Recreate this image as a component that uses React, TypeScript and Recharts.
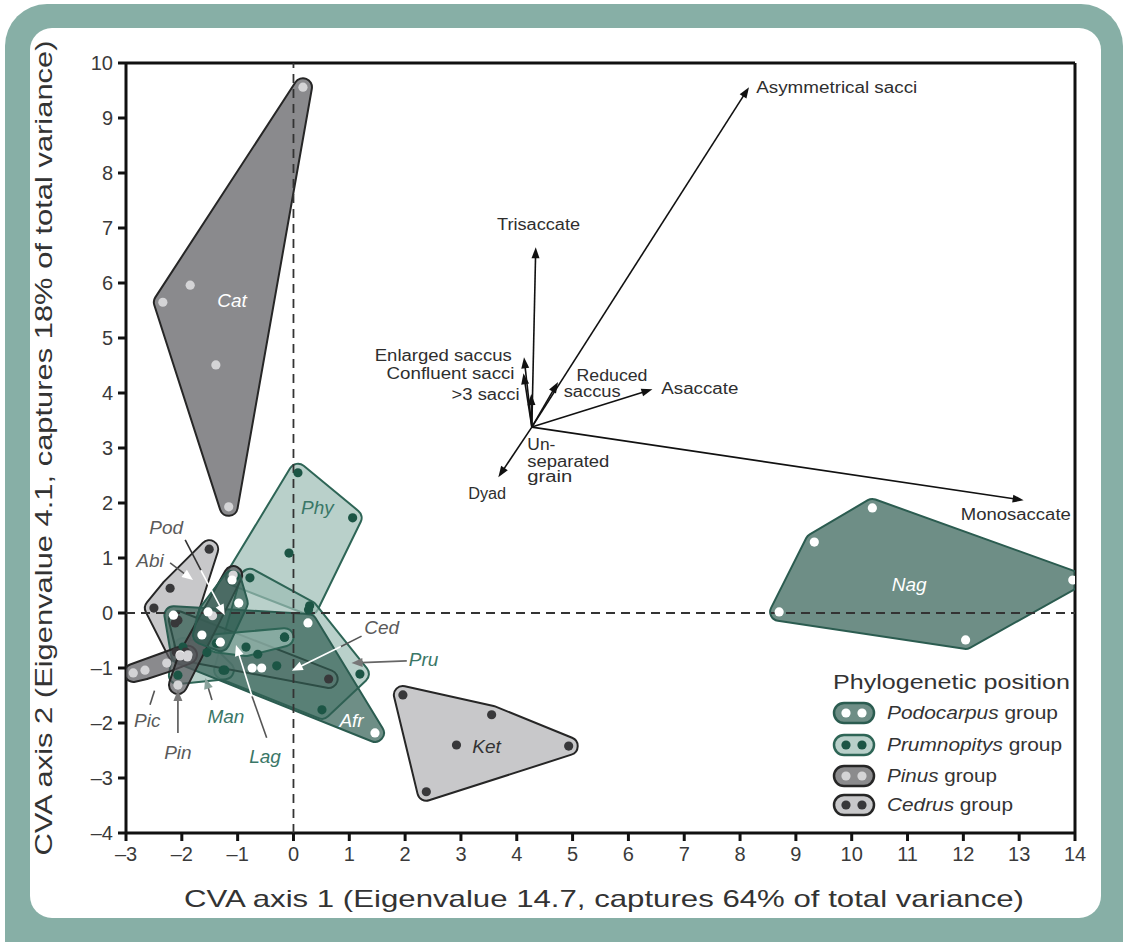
import React from 'react';
import { ScatterChart, Scatter, XAxis, YAxis, ReferenceLine } from 'recharts';

type Pt = { x: number; y: number };
type GroupKey = 'podocarpus' | 'prumnopitys' | 'pinus' | 'cedrus';

// ---------- axis ticks ----------
const xTicks = [-3, -2, -1, 0, 1, 2, 3, 4, 5, 6, 7, 8, 9, 10, 11, 12, 13, 14];
const yTicks = [-4, -3, -2, -1, 0, 1, 2, 3, 4, 5, 6, 7, 8, 9, 10];

// ---------- taxon scores (CVA axis 1, CVA axis 2) ----------
const catPoints: Pt[] = [
  { x: 0.17, y: 9.56 }, { x: -2.34, y: 5.65 }, { x: -1.85, y: 5.96 }, { x: -1.39, y: 4.51 }, { x: -1.16, y: 1.93 },
];
const nagPoints: Pt[] = [
  { x: 8.7, y: 0.02 }, { x: 9.33, y: 1.29 }, { x: 10.37, y: 1.91 }, { x: 13.96, y: 0.6 }, { x: 12.04, y: -0.49 },
];
const ketPoints: Pt[] = [
  { x: 1.96, y: -1.49 }, { x: 3.55, y: -1.85 }, { x: 2.92, y: -2.4 }, { x: 2.38, y: -3.25 }, { x: 4.93, y: -2.42 },
];
const phyPoints: Pt[] = [
  { x: 0.08, y: 2.55 }, { x: 1.06, y: 1.73 }, { x: -0.08, y: 1.09 }, { x: 0.29, y: 0.13 }, { x: -1.05, y: 0.66 },
];
const abiPoints: Pt[] = [
  { x: -1.51, y: 1.16 }, { x: -2.21, y: 0.45 }, { x: -2.5, y: 0.09 }, { x: -2.12, y: -0.18 }, { x: -2.1, y: -0.71 },
];
const cedPoints: Pt[] = [
  { x: -2.07, y: -0.13 }, { x: -1.93, y: -0.71 }, { x: -1.35, y: -0.55 }, { x: 0.63, y: -1.2 },
];
const picPoints: Pt[] = [
  { x: -2.87, y: -1.09 }, { x: -2.66, y: -1.04 }, { x: -2.27, y: -0.91 }, { x: -2.03, y: -0.78 }, { x: -1.89, y: -0.76 },
];
const pinPoints: Pt[] = [
  { x: -1.08, y: 0.69 }, { x: -1.45, y: -0.05 }, { x: -1.9, y: -0.8 }, { x: -2.07, y: -1.31 },
];
const afrPoints: Pt[] = [
  { x: -2.15, y: -0.04 }, { x: 0.26, y: -0.18 }, { x: 1.46, y: -2.18 }, { x: -2.03, y: -0.76 }, { x: -0.74, y: -1.0 }, { x: -0.57, y: -1.0 },
];
const pruPoints: Pt[] = [
  { x: -0.78, y: 0.64 }, { x: 0.27, y: 0.06 }, { x: 1.19, y: -1.11 }, { x: 0.51, y: -1.76 }, { x: -1.26, y: -1.04 },
  { x: -0.16, y: -0.44 }, { x: -0.64, y: -0.75 }, { x: -0.3, y: -0.96 },
];
const manPoints: Pt[] = [
  { x: -2.07, y: -1.13 }, { x: -1.23, y: -1.04 }, { x: -1.55, y: -0.72 }, { x: -1.98, y: -0.62 },
];
const lagPoints: Pt[] = [
  { x: -1.38, y: -0.55 }, { x: -0.16, y: -0.44 }, { x: -0.85, y: -0.62 },
];
const podPoints: Pt[] = [
  { x: -1.1, y: 0.6 }, { x: -0.98, y: 0.18 }, { x: -1.53, y: 0.02 }, { x: -1.64, y: -0.4 }, { x: -1.31, y: -0.53 },
];

// drawing order: light hulls first, darker ones on top
const taxa: { name: string; group: GroupKey; points: Pt[] }[] = [
  { name: 'Cat', group: 'pinus', points: catPoints },
  { name: 'Nag', group: 'podocarpus', points: nagPoints },
  { name: 'Ket', group: 'cedrus', points: ketPoints },
  { name: 'Phy', group: 'prumnopitys', points: phyPoints },
  { name: 'Pru', group: 'prumnopitys', points: pruPoints },
  { name: 'Man', group: 'prumnopitys', points: manPoints },
  { name: 'Abi', group: 'cedrus', points: abiPoints },
  { name: 'Ced', group: 'cedrus', points: cedPoints },
  { name: 'Afr', group: 'podocarpus', points: afrPoints },
  { name: 'Lag', group: 'prumnopitys', points: lagPoints },
  { name: 'Pic', group: 'pinus', points: picPoints },
  { name: 'Pin', group: 'pinus', points: pinPoints },
  { name: 'Pod', group: 'podocarpus', points: podPoints },
];

// ---------- character vectors (biplot) ----------
const vectorOrigin: Pt = { x: 4.27, y: 3.38 };
const vectorNames = [
  'Asymmetrical sacci', 'Trisaccate', 'Enlarged saccus', 'Confluent sacci', '>3 sacci',
  'Reduced saccus', 'Asaccate', 'Dyad', 'Monosaccate',
];
const vectorEnds: Pt[] = [
  { x: 8.16, y: 9.56 }, { x: 4.34, y: 6.65 }, { x: 4.13, y: 4.65 }, { x: 4.12, y: 4.36 }, { x: 4.26, y: 3.98 },
  { x: 4.74, y: 4.2 }, { x: 6.43, y: 4.07 }, { x: 3.67, y: 2.47 }, { x: 13.08, y: 2.05 },
];

// ---------- annotations ----------
type Tone = 'white' | 'teal' | 'gray' | 'dark';
const taxonLabels: { label: string; x: number; y: number; tone: Tone }[] = [
  { label: 'Cat', x: -1.1, y: 5.69, tone: 'white' },
  { label: 'Phy', x: 0.43, y: 1.91, tone: 'teal' },
  { label: 'Nag', x: 11.03, y: 0.51, tone: 'white' },
  { label: 'Ket', x: 3.46, y: -2.42, tone: 'dark' },
  { label: 'Pod', x: -2.28, y: 1.55, tone: 'gray' },
  { label: 'Abi', x: -2.57, y: 0.96, tone: 'gray' },
  { label: 'Ced', x: 1.58, y: -0.27, tone: 'gray' },
  { label: 'Pru', x: 2.33, y: -0.85, tone: 'teal' },
  { label: 'Afr', x: 1.04, y: -1.95, tone: 'white' },
  { label: 'Lag', x: -0.51, y: -2.6, tone: 'teal' },
  { label: 'Man', x: -1.21, y: -1.89, tone: 'teal' },
  { label: 'Pin', x: -2.07, y: -2.53, tone: 'gray' },
  { label: 'Pic', x: -2.62, y: -1.95, tone: 'gray' },
];

const vectorLabels: { label: string; x: number; y: number; anchor: 'start' | 'middle' | 'end'; w: number }[] = [
  { label: 'Asymmetrical sacci', x: 8.29, y: 9.56, anchor: 'start', w: 161 },
  { label: 'Trisaccate', x: 4.39, y: 7.07, anchor: 'middle', w: 83 },
  { label: 'Enlarged saccus', x: 3.91, y: 4.69, anchor: 'end', w: 137 },
  { label: 'Confluent sacci', x: 3.96, y: 4.36, anchor: 'end', w: 128 },
  { label: '>3 sacci', x: 4.05, y: 3.98, anchor: 'end', w: 68 },
  { label: 'Reduced', x: 5.07, y: 4.31, anchor: 'start', w: 71 },
  { label: 'saccus', x: 4.84, y: 4.02, anchor: 'start', w: 57 },
  { label: 'Asaccate', x: 6.59, y: 4.09, anchor: 'start', w: 77 },
  { label: 'Un-', x: 4.19, y: 3.07, anchor: 'start', w: 28 },
  { label: 'separated', x: 4.19, y: 2.76, anchor: 'start', w: 82 },
  { label: 'grain', x: 4.19, y: 2.49, anchor: 'start', w: 45 },
  { label: 'Dyad', x: 3.47, y: 2.18, anchor: 'middle', w: 38 },
  { label: 'Monosaccate', x: 12.94, y: 1.8, anchor: 'middle', w: 110 },
];

// pointer arrows from taxon labels to their hulls
const pointerLines: { from: Pt; to: Pt; line: string; head: string | null }[] = [
  { from: { x: -1.94, y: 1.33 }, to: { x: -1.66, y: 0.78 }, line: '#333333', head: null },
  { from: { x: -1.66, y: 0.78 }, to: { x: -1.23, y: -0.04 }, line: '#ffffff', head: '#ffffff' },
  { from: { x: -2.21, y: 0.91 }, to: { x: -1.8, y: 0.6 }, line: '#555555', head: '#ffffff' },
  { from: { x: 1.22, y: -0.42 }, to: { x: 0.85, y: -0.61 }, line: '#555555', head: null },
  { from: { x: 0.85, y: -0.61 }, to: { x: -0.03, y: -1.05 }, line: '#ffffff', head: '#ffffff' },
  { from: { x: 2.03, y: -0.87 }, to: { x: 1.04, y: -0.91 }, line: '#666666', head: '#777777' },
  { from: { x: -0.48, y: -2.27 }, to: { x: -0.74, y: -1.52 }, line: '#555555', head: null },
  { from: { x: -0.74, y: -1.52 }, to: { x: -1.03, y: -0.58 }, line: '#ffffff', head: '#ffffff' },
  { from: { x: -1.46, y: -1.58 }, to: { x: -1.58, y: -1.18 }, line: '#555555', head: '#8aa39c' },
  { from: { x: -2.07, y: -2.18 }, to: { x: -2.07, y: -1.4 }, line: '#555555', head: '#777777' },
  { from: { x: -2.57, y: -1.67 }, to: { x: -2.43, y: -1.22 }, line: '#555555', head: '#ffffff' },
];

// dashed zero lines (x = 0 and y = 0 across the domain)
const zeroLineX: Pt[] = [{ x: 0, y: -4 }, { x: 0, y: 10 }];
const zeroLineY: Pt[] = [{ x: -3, y: 0 }, { x: 14, y: 0 }];

// ---------- styles ----------
const FONT = '"Liberation Sans", Arial, Helvetica, sans-serif';
const FILL_ALPHA = 0.7;
const HULL_R = 9;
const GROUP_STYLE: Record<GroupKey, { fill: string; stroke: string; point: string; legendFill: string }> = {
  podocarpus: { fill: '#305e52', stroke: '#2b5c50', point: '#ffffff', legendFill: '#6e8e86' },
  prumnopitys: { fill: '#9bbcb3', stroke: '#2e6556', point: '#1c5545', legendFill: '#b9d0ca' },
  pinus: { fill: '#59595c', stroke: '#262626', point: '#d4d4d6', legendFill: '#8b8b8d' },
  cedrus: { fill: '#b0b0b3', stroke: '#262626', point: '#38383a', legendFill: '#c8c8ca' },
};
const TONE_COLOR: Record<Tone, string> = { white: '#ffffff', teal: '#3a7767', gray: '#5a5a5a', dark: '#333333' };

// ---------- geometry helpers (pixel space) ----------
function convexHull(pts: Pt[]): Pt[] {
  const uniq: Pt[] = [];
  pts.forEach((p) => {
    if (!uniq.some((q) => Math.abs(q.x - p.x) < 0.01 && Math.abs(q.y - p.y) < 0.01)) uniq.push(p);
  });
  const p = uniq.slice().sort((a, b) => a.x - b.x || a.y - b.y);
  if (p.length <= 2) return p;
  const cross = (o: Pt, a: Pt, b: Pt) => (a.x - o.x) * (b.y - o.y) - (a.y - o.y) * (b.x - o.x);
  const lower: Pt[] = [];
  for (const q of p) {
    while (lower.length >= 2 && cross(lower[lower.length - 2], lower[lower.length - 1], q) <= 0) lower.pop();
    lower.push(q);
  }
  const upper: Pt[] = [];
  for (let i = p.length - 1; i >= 0; i--) {
    const q = p[i];
    while (upper.length >= 2 && cross(upper[upper.length - 2], upper[upper.length - 1], q) <= 0) upper.pop();
    upper.push(q);
  }
  upper.pop();
  lower.pop();
  return lower.concat(upper);
}

function roundedHullPath(pts: Pt[], r: number): string {
  const h = convexHull(pts);
  if (h.length === 0) return '';
  if (h.length === 1) {
    const c = h[0];
    return `M ${c.x - r} ${c.y} a ${r} ${r} 0 1 0 ${2 * r} 0 a ${r} ${r} 0 1 0 ${-2 * r} 0 Z`;
  }
  const n = h.length;
  let area = 0;
  for (let i = 0; i < n; i++) {
    const a = h[i];
    const b = h[(i + 1) % n];
    area += a.x * b.y - b.x * a.y;
  }
  const s = area >= 0 ? 1 : -1;
  const normals = h.map((a, i) => {
    const b = h[(i + 1) % n];
    const dx = b.x - a.x;
    const dy = b.y - a.y;
    const L = Math.hypot(dx, dy) || 1;
    return { x: (s * dy) / L, y: (-s * dx) / L };
  });
  const sweep = s > 0 ? 1 : 0;
  let d = '';
  for (let i = 0; i < n; i++) {
    const a = h[i];
    const b = h[(i + 1) % n];
    const nm = normals[i];
    const nn = normals[(i + 1) % n];
    if (i === 0) d += `M ${a.x + r * nm.x} ${a.y + r * nm.y} `;
    d += `L ${b.x + r * nm.x} ${b.y + r * nm.y} `;
    d += `A ${r} ${r} 0 0 ${sweep} ${b.x + r * nn.x} ${b.y + r * nn.y} `;
  }
  return d + 'Z';
}

const makeHullLine = (g: GroupKey) => (props: any) => {
  const pts: Pt[] = (props.points || []).filter((p: Pt) => Number.isFinite(p.x) && Number.isFinite(p.y));
  const st = GROUP_STYLE[g];
  if (!pts.length) return <g />;
  return (
    <path
      d={roundedHullPath(pts, HULL_R)}
      fill={st.fill}
      fillOpacity={FILL_ALPHA}
      stroke={st.stroke}
      strokeWidth={2}
      strokeLinejoin="round"
    />
  );
};

const emptyShape = () => <g />;
const makeDot = (g: GroupKey) => (props: any) => (
  <circle cx={props.cx} cy={props.cy} r={4.6} fill={GROUP_STYLE[g].point} />
);

// arrow drawn between the two pixel points Recharts computed for a 2-point Scatter
const makeArrowLine = (color: string, headColor: string | null, width: number, hl: number, hw: number) => (props: any) => {
  const pts = props.points || [];
  if (pts.length < 2) return <g />;
  const x1 = pts[0].x;
  const y1 = pts[0].y;
  const x2 = pts[1].x;
  const y2 = pts[1].y;
  const dx = x2 - x1;
  const dy = y2 - y1;
  const L = Math.hypot(dx, dy) || 1;
  const ux = dx / L;
  const uy = dy / L;
  const bx = headColor ? x2 - ux * hl : x2;
  const by = headColor ? y2 - uy * hl : y2;
  return (
    <g>
      <line x1={x1} y1={y1} x2={bx + ux * 1} y2={by + uy * 1} stroke={color} strokeWidth={width} />
      {headColor && (
        <polygon
          points={`${x2},${y2} ${bx + uy * hw},${by - ux * hw} ${bx - uy * hw},${by + ux * hw}`}
          fill={headColor}
        />
      )}
    </g>
  );
};

const dashedLine = (props: any) => {
  const pts = props.points || [];
  if (pts.length < 2) return <g />;
  return (
    <line
      x1={pts[0].x}
      y1={pts[0].y}
      x2={pts[1].x}
      y2={pts[1].y}
      stroke="#333"
      strokeWidth={1.8}
      strokeDasharray="9 6"
    />
  );
};

const taxonLabelShape = (props: any) => {
  const p = props.payload;
  return (
    <text
      x={props.cx}
      y={props.cy}
      textAnchor="middle"
      dominantBaseline="central"
      fontFamily={FONT}
      fontStyle="italic"
      fontSize={19}
      fill={TONE_COLOR[p.tone as Tone]}
    >
      {p.label}
    </text>
  );
};

const vectorLabelShape = (props: any) => {
  const p = props.payload;
  return (
    <text
      x={props.cx}
      y={props.cy}
      textAnchor={p.anchor}
      dominantBaseline="central"
      fontFamily={FONT}
      fontSize={16}
      fill="#2e2e2e"
      textLength={p.w}
      lengthAdjust="spacingAndGlyphs"
    >
      {p.label}
    </text>
  );
};

const fmt = (v: number) => (v < 0 ? '\u2013' + Math.abs(v) : String(v));

const legendItems: { genus: string; group: GroupKey; cy: number; w: number }[] = [
  { genus: 'Podocarpus', group: 'podocarpus', cy: 713, w: 171 },
  { genus: 'Prumnopitys', group: 'prumnopitys', cy: 745, w: 175 },
  { genus: 'Pinus', group: 'pinus', cy: 776, w: 110 },
  { genus: 'Cedrus', group: 'cedrus', cy: 805, w: 126 },
];

export default function App() {
  return (
    <div style={{ position: 'absolute', left: 0, top: 0, width: 1128, height: 942, overflow: 'hidden', background: '#ffffff' }}>
      <div style={{ position: 'absolute', left: 5, top: 4, width: 1118, height: 990, borderRadius: 42, background: '#87afa6' }} />
      <div style={{ position: 'absolute', left: 30, top: 28, width: 1071, height: 890, borderRadius: 22, background: '#ffffff' }} />
      <div style={{ position: 'absolute', left: 0, top: 0 }}>
        <ScatterChart width={1128} height={942} margin={{ top: 63, right: 53, bottom: 69, left: 66 }}>
          <XAxis
            type="number"
            dataKey="x"
            domain={[-3, 14]}
            ticks={xTicks}
            interval={0}
            allowDataOverflow
            height={40}
            tickFormatter={fmt}
            tickSize={8}
            tickMargin={6}
            axisLine={{ stroke: '#111', strokeWidth: 3 }}
            tickLine={{ stroke: '#111', strokeWidth: 3 }}
            tick={{ fontSize: 20, fill: '#3a3a3a', fontFamily: FONT }}
          />
          <YAxis
            type="number"
            dataKey="y"
            domain={[-4, 10]}
            ticks={yTicks}
            interval={0}
            allowDataOverflow
            width={60}
            tickFormatter={fmt}
            tickSize={8}
            tickMargin={5}
            axisLine={{ stroke: '#111', strokeWidth: 3 }}
            tickLine={{ stroke: '#111', strokeWidth: 3 }}
            tick={{ fontSize: 20, fill: '#3a3a3a', fontFamily: FONT }}
          />
          <ReferenceLine y={10} stroke="#111" strokeWidth={3} ifOverflow="visible" />
          <ReferenceLine x={14} stroke="#111" strokeWidth={3} ifOverflow="visible" />

          {taxa.map((t) => (
            <Scatter
              key={'hull-' + t.name}
              data={t.points}
              line={makeHullLine(t.group)}
              shape={emptyShape}
              isAnimationActive={false}
            />
          ))}

          <Scatter data={zeroLineX} line={dashedLine} shape={emptyShape} isAnimationActive={false} />
          <Scatter data={zeroLineY} line={dashedLine} shape={emptyShape} isAnimationActive={false} />

          {taxa.map((t) => (
            <Scatter key={'pts-' + t.name} data={t.points} shape={makeDot(t.group)} isAnimationActive={false} />
          ))}

          {vectorEnds.map((e, i) => (
            <Scatter
              key={'vec-' + vectorNames[i]}
              data={[vectorOrigin, e]}
              line={makeArrowLine('#111111', '#111111', 1.6, 11, 4)}
              shape={emptyShape}
              isAnimationActive={false}
            />
          ))}
          {pointerLines.map((p, i) => (
            <Scatter
              key={'ptr-' + i}
              data={[p.from, p.to]}
              line={makeArrowLine(p.line, p.head, 1.6, 11, 4.5)}
              shape={emptyShape}
              isAnimationActive={false}
            />
          ))}

          <Scatter data={taxonLabels} shape={taxonLabelShape} isAnimationActive={false} />
          <Scatter data={vectorLabels} shape={vectorLabelShape} isAnimationActive={false} />
        </ScatterChart>
      </div>
      <svg width={1128} height={942} style={{ position: 'absolute', left: 0, top: 0, pointerEvents: 'none' }}>
        <text
          x={604}
          y={898}
          textAnchor="middle"
          dominantBaseline="central"
          fontFamily={FONT}
          fontSize={24}
          fill="#333"
          textLength={840}
          lengthAdjust="spacingAndGlyphs"
        >
          CVA axis 1 (Eigenvalue 14.7, captures 64% of total variance)
        </text>
        <text
          x={0}
          y={0}
          transform="translate(43,448) rotate(-90)"
          textAnchor="middle"
          dominantBaseline="central"
          fontFamily={FONT}
          fontSize={24}
          fill="#333"
          textLength={815}
          lengthAdjust="spacingAndGlyphs"
        >
          CVA axis 2 (Eigenvalue 4.1, captures 18% of total variance)
        </text>
        <text
          x={833}
          y={681}
          dominantBaseline="central"
          fontFamily={FONT}
          fontSize={21}
          fill="#333"
          textLength={237}
          lengthAdjust="spacingAndGlyphs"
        >
          Phylogenetic position
        </text>
        {legendItems.map((it) => {
          const st = GROUP_STYLE[it.group];
          return (
            <g key={it.genus}>
              <rect x={834} y={it.cy - 10} width={40} height={20} rx={10} fill={st.legendFill} stroke={st.stroke} strokeWidth={2.5} />
              <circle cx={846} cy={it.cy} r={4.6} fill={st.point} />
              <circle cx={862} cy={it.cy} r={4.6} fill={st.point} />
              <text
                x={887}
                y={it.cy}
                dominantBaseline="central"
                fontFamily={FONT}
                fontSize={18}
                fill="#333"
                textLength={it.w}
                lengthAdjust="spacingAndGlyphs"
              >
                <tspan fontStyle="italic">{it.genus}</tspan> group
              </text>
            </g>
          );
        })}
      </svg>
    </div>
  );
}
